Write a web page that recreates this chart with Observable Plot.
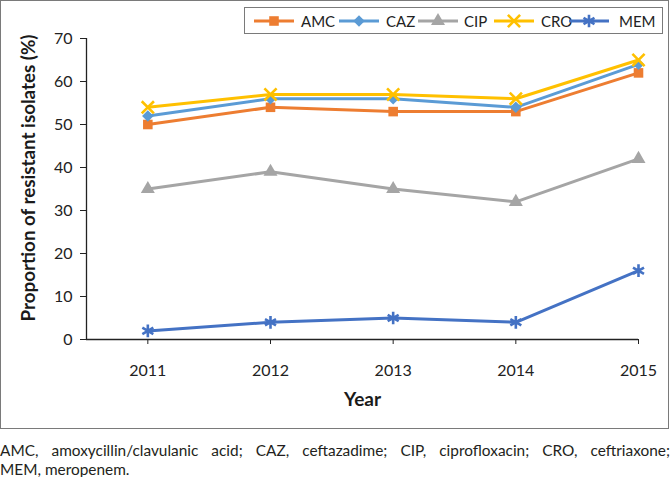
<!DOCTYPE html>
<html>
<head>
<meta charset="utf-8">
<script src="https://cdn.jsdelivr.net/npm/d3@7"></script>
<script src="https://cdn.jsdelivr.net/npm/@observablehq/plot@0.6"></script>
<style>
  html, body { margin: 0; padding: 0; background: #fff; }
  body { width: 670px; font-family: Lato, "Open Sans", sans-serif; }
  #wrap { position: relative; width: 670px; height: 429px; }
  #border { position: absolute; left: 0; top: 0; width: 669px; height: 429px; box-sizing: border-box; border: 1.5px solid #7a7a7a; pointer-events: none; }
  #legend { position: absolute; left: 244px; top: 7px; width: 419px; height: 27px; box-sizing: border-box; border: 1px solid #7a7a7a; background: #fff; }
  #legend .sw { position: absolute; top: 3px; }
  #legend .lab { position: absolute; top: 3px; font-size: 15px; line-height: 20px; color: #222; }
  #caption { margin: 12px 0 0 0; font-size: 15.4px; line-height: 18.5px; color: #231f20; }
  #caption .l1 { display: block; text-align: justify; text-align-last: justify; }
  #caption .l2 { display: block; text-align: left; }
</style>
</head>
<body>
<div id="wrap">
  <div id="chart"></div>
  <div id="legend"></div>
  <div id="border"></div>
</div>
<p id="caption"><span class="l1">AMC, amoxycillin/clavulanic acid; CAZ, ceftazadime; CIP, ciprofloxacin; CRO, ceftriaxone;</span><span class="l2">MEM, meropenem.</span></p>
<script>
const years = [2011, 2012, 2013, 2014, 2015];
const seriesNames = ["AMC", "CAZ", "CIP", "CRO", "MEM"];
const AMC = [50, 54, 53, 53, 62];
const CAZ = [52, 56, 56, 54, 64];
const CIP = [35, 39, 35, 32, 42];
const CRO = [54, 57, 57, 56, 65];
const MEM = [2, 4, 5, 4, 16];
const yTicks = [0, 10, 20, 30, 40, 50, 60, 70];
const colors = ["#ED7D31", "#5B9BD5", "#A5A5A5", "#FFC000", "#4472C4"];
const symbols = ["square", "diamond2", "triangle", "times", "asterisk"];
const filled = [true, true, true, false, false];
const radii = [5.4, 5.2, 5.2, 5.6, 6];

const valuesBySeries = { AMC, CAZ, CIP, CRO, MEM };
const rows = [];
seriesNames.forEach((s) => {
  valuesBySeries[s].forEach((v, i) => rows.push({ series: s, year: years[i], value: v }));
});

const marks = [
  Plot.ruleY([0], { stroke: "#222", strokeWidth: 1.3 }),
  Plot.ruleX([2010.5], { stroke: "#222", strokeWidth: 1.3 }),
  Plot.axisX({ ticks: years, tickFormat: (d) => String(d), tickSize: 5, tickPadding: 20, fontSize: 16, stroke: "#222", label: null }),
  Plot.axisY({ ticks: yTicks, tickSize: 6, tickPadding: 8, fontSize: 16, stroke: "#222", label: null }),
  Plot.text(["Proportion of resistant isolates (%)"], { frameAnchor: "left", textAnchor: "middle", lineAnchor: "middle", rotate: -90, dx: -58, dy: -11, fontSize: 18.8, fontWeight: "bold", fill: "#1a1a1a" }),
  Plot.text(["Year"], { frameAnchor: "bottom", dy: 66, fontSize: 19, fontWeight: "bold", fill: "#1a1a1a" })
];
seriesNames.forEach((s, k) => {
  const data = rows.filter((d) => d.series === s);
  marks.push(Plot.line(data, { x: "year", y: "value", stroke: colors[k], strokeWidth: 3 }));
  marks.push(Plot.dot(data, filled[k]
    ? { x: "year", y: "value", symbol: () => symbols[k], r: radii[k], fill: colors[k], stroke: "none" }
    : { x: "year", y: "value", symbol: () => symbols[k], r: radii[k], fill: "none", stroke: colors[k], strokeWidth: 2.6 }));
});

const chart = Plot.plot({
  width: 670,
  height: 429,
  marginLeft: 86,
  marginRight: 32,
  marginTop: 38,
  marginBottom: 90,
  style: { fontFamily: "Lato, 'Open Sans', sans-serif", color: "#222", background: "transparent", overflow: "visible" },
  x: { type: "linear", domain: [2010.5, 2015] },
  y: { domain: [0, 70] },
  symbol: { type: "identity" },
  marks
});
document.getElementById("chart").appendChild(chart);

// Legend (HTML + d3 symbol swatches)
const legend = document.getElementById("legend");
const lineStarts = [9, 94, 173, 249, 324];
const labelStarts = [56, 141, 219, 296, 374];
const symbolTypes = { square: d3.symbolSquare, diamond2: d3.symbolDiamond2, triangle: d3.symbolTriangle, times: d3.symbolTimes, asterisk: d3.symbolAsterisk };
seriesNames.forEach((s, k) => {
  const w = 40;
  const svg = d3.create("svg").attr("class", "sw").attr("width", w).attr("height", 20)
    .style("left", lineStarts[k] + "px");
  svg.append("line").attr("x1", 0).attr("x2", w).attr("y1", 10).attr("y2", 10)
    .attr("stroke", colors[k]).attr("stroke-width", 3);
  const path = d3.symbol(symbolTypes[symbols[k]], Math.PI * radii[k] * radii[k])();
  const p = svg.append("path").attr("d", path).attr("transform", `translate(${w / 2},10)`);
  if (filled[k]) p.attr("fill", colors[k]);
  else p.attr("fill", "none").attr("stroke", colors[k]).attr("stroke-width", 2.6);
  legend.appendChild(svg.node());
  const lab = document.createElement("span");
  lab.className = "lab";
  lab.style.left = labelStarts[k] + "px";
  lab.textContent = s;
  legend.appendChild(lab);
});
</script>
</body>
</html>
